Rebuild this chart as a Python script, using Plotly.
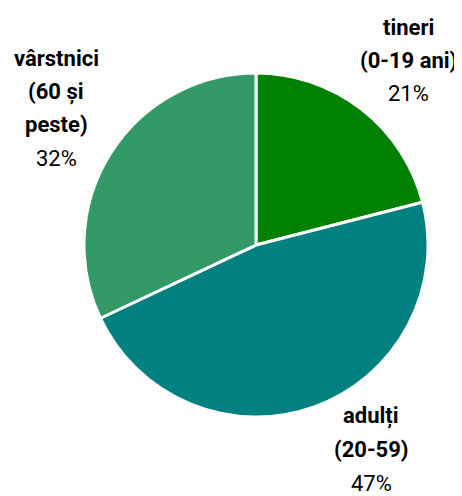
import plotly.graph_objects as go

# date: structura populației pe grupe de vârstă
categorii = [["tineri", "(0-19 ani)"], ["adulți", "(20-59)"], ["vârstnici", "(60 și", "peste)"]]
procente = [21, 47, 32]
culori = ["#008000", "#008080", "#339966"]

W, H = 462, 496
OFF = 8  # marginea implicită a paginii
FONT = "Roboto, Liberation Sans Narrow, sans-serif"

fig = go.Figure()

fig.add_trace(
    go.Pie(
        labels=[" ".join(c) for c in categorii],
        values=procente,
        sort=False,
        direction="clockwise",
        rotation=0,
        marker=dict(colors=culori, line=dict(color="white", width=3)),
        textinfo="none",
        hoverinfo="label+percent",
        showlegend=False,
        domain=dict(x=[(84 - OFF) / W, (428 - OFF) / W],
                    y=[1 - (417 - OFF) / H, 1 - (73 - OFF) / H]),
    )
)

# poziția etichetelor (pixeli pe imagine): x centru, y primul rând
pozitii = [(408, 27), (371, 416), (56, 58)]
PAS = 33.5
for linii, val, (px_, py_) in zip(categorii, procente, pozitii):
    randuri = [f"<b>{t}</b>" for t in linii] + [f"{val}%"]
    for i, t in enumerate(randuri):
        fig.add_annotation(
            x=(px_ - OFF) / W,
            y=1 - (py_ + i * PAS - OFF) / H,
            xref="paper",
            yref="paper",
            xanchor="center",
            yanchor="middle",
            showarrow=False,
            text=t,
            font=dict(family=FONT, size=22, color="black"),
        )

fig.update_layout(
    width=W,
    height=H,
    margin=dict(l=0, r=0, t=0, b=0),
    paper_bgcolor="white",
    plot_bgcolor="white",
)

fig.write_html("out.html")
